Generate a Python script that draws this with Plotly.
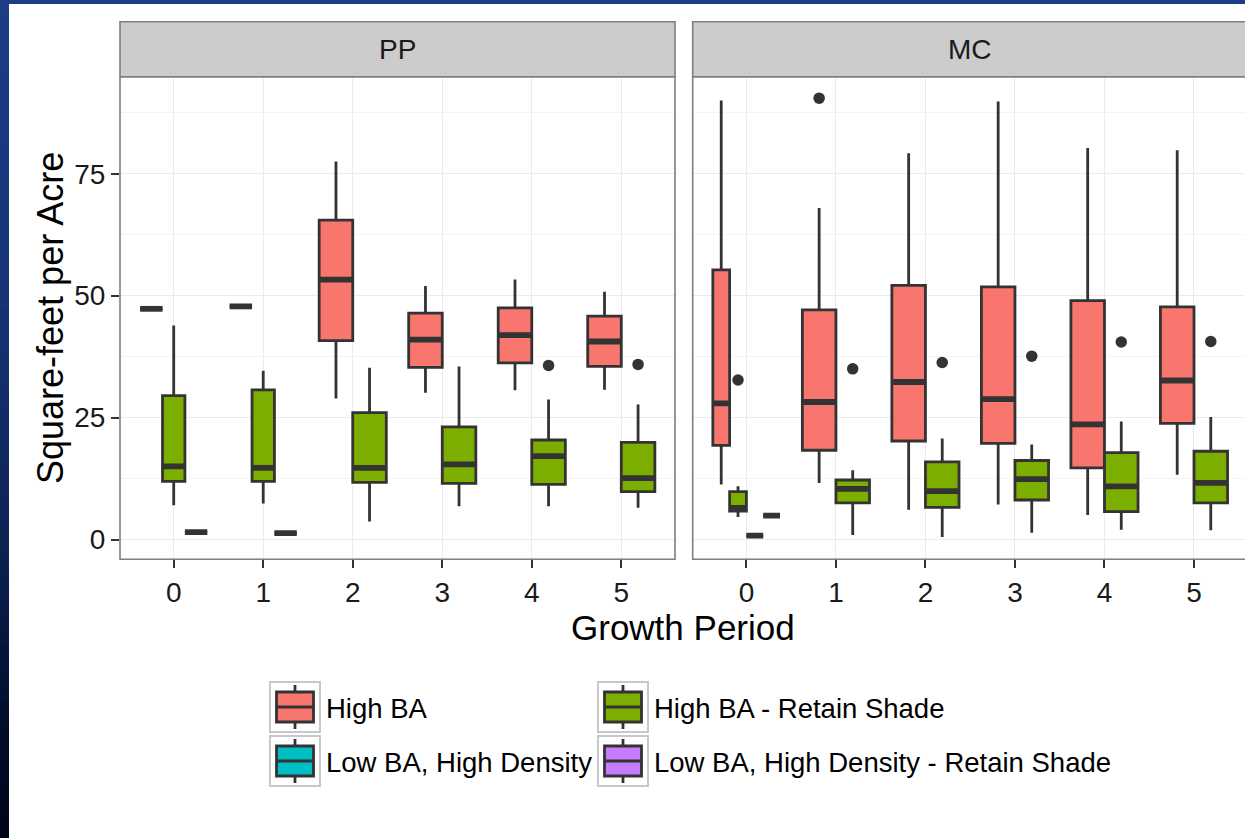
import plotly.graph_objects as go

W, H = 1245, 838
FONT = "Liberation Sans, Arial, Helvetica, sans-serif"

# ---------------- data ----------------
periods = [0, 1, 2, 3, 4, 5]
facets = ["PP", "MC"]
series_names = ["High BA", "High BA - Retain Shade",
                "Low BA, High Density", "Low BA, High Density - Retain Shade"]
series_colors = ["#F8766D", "#7CAE00", "#00BFC4", "#C77CFF"]

# PP: High BA
pp_hba_lower = [47.3, 47.8, 28.9, 30.1, 30.6, 30.7]
pp_hba_q1 = [47.3, 47.8, 40.8, 35.3, 36.2, 35.5]
pp_hba_median = [47.3, 47.8, 53.3, 41.0, 41.9, 40.6]
pp_hba_q3 = [47.3, 47.8, 65.5, 46.4, 47.5, 45.8]
pp_hba_upper = [47.3, 47.8, 77.5, 52.0, 53.3, 50.8]
pp_hba_outliers = [[], [], [], [], [], []]

# PP: High BA - Retain Shade
pp_hrs_lower = [7.0, 7.4, 3.7, 6.8, 6.8, 6.5]
pp_hrs_q1 = [11.9, 11.9, 11.7, 11.5, 11.3, 9.8]
pp_hrs_median = [15.0, 14.7, 14.7, 15.4, 17.1, 12.6]
pp_hrs_q3 = [29.5, 30.7, 26.0, 23.1, 20.4, 19.9]
pp_hrs_upper = [43.9, 34.6, 35.2, 35.5, 28.7, 27.7]
pp_hrs_outliers = [[], [], [], [], [35.7], [35.9]]

# PP: Low BA, High Density
pp_lhd_lower = [1.5, 1.3, None, None, None, None]
pp_lhd_q1 = [1.5, 1.3, None, None, None, None]
pp_lhd_median = [1.5, 1.3, None, None, None, None]
pp_lhd_q3 = [1.5, 1.3, None, None, None, None]
pp_lhd_upper = [1.5, 1.3, None, None, None, None]
pp_lhd_outliers = [[], [], [], [], [], []]

# PP: Low BA, High Density - Retain Shade (no observations)
pp_lrs_lower = [None] * 6
pp_lrs_q1 = [None] * 6
pp_lrs_median = [None] * 6
pp_lrs_q3 = [None] * 6
pp_lrs_upper = [None] * 6
pp_lrs_outliers = [[], [], [], [], [], []]

# MC: High BA
mc_hba_lower = [11.3, 11.6, 6.1, 7.2, 5.0, 13.3]
mc_hba_q1 = [19.3, 18.3, 20.2, 19.7, 14.7, 23.8]
mc_hba_median = [27.9, 28.2, 32.3, 28.8, 23.6, 32.6]
mc_hba_q3 = [55.3, 47.1, 52.1, 51.8, 49.0, 47.7]
mc_hba_upper = [90.0, 68.0, 79.2, 89.8, 80.3, 79.8]
mc_hba_outliers = [[], [90.5], [], [], [], []]

# MC: High BA - Retain Shade
mc_hrs_lower = [4.6, 0.9, 0.5, 1.4, 2.0, 1.9]
mc_hrs_q1 = [5.8, 7.5, 6.6, 8.1, 5.7, 7.5]
mc_hrs_median = [6.5, 10.4, 9.9, 12.4, 10.9, 11.6]
mc_hrs_q3 = [9.8, 12.2, 15.9, 16.2, 17.8, 18.1]
mc_hrs_upper = [10.9, 14.2, 20.7, 19.5, 24.2, 25.1]
mc_hrs_outliers = [[32.7], [35.0], [36.3], [37.6], [40.5], [40.6]]

# MC: Low BA, High Density
mc_lhd_lower = [0.8, None, None, None, None, None]
mc_lhd_q1 = [0.8, None, None, None, None, None]
mc_lhd_median = [0.8, None, None, None, None, None]
mc_lhd_q3 = [0.8, None, None, None, None, None]
mc_lhd_upper = [0.8, None, None, None, None, None]
mc_lhd_outliers = [[], [], [], [], [], []]

# MC: Low BA, High Density - Retain Shade
mc_lrs_lower = [4.9, None, None, None, None, None]
mc_lrs_q1 = [4.9, None, None, None, None, None]
mc_lrs_median = [4.9, None, None, None, None, None]
mc_lrs_q3 = [4.9, None, None, None, None, None]
mc_lrs_upper = [4.9, None, None, None, None, None]
mc_lrs_outliers = [[], [], [], [], [], []]

facet_series = {
    "PP": [
        (pp_hba_lower, pp_hba_q1, pp_hba_median, pp_hba_q3, pp_hba_upper, pp_hba_outliers),
        (pp_hrs_lower, pp_hrs_q1, pp_hrs_median, pp_hrs_q3, pp_hrs_upper, pp_hrs_outliers),
        (pp_lhd_lower, pp_lhd_q1, pp_lhd_median, pp_lhd_q3, pp_lhd_upper, pp_lhd_outliers),
        (pp_lrs_lower, pp_lrs_q1, pp_lrs_median, pp_lrs_q3, pp_lrs_upper, pp_lrs_outliers),
    ],
    "MC": [
        (mc_hba_lower, mc_hba_q1, mc_hba_median, mc_hba_q3, mc_hba_upper, mc_hba_outliers),
        (mc_hrs_lower, mc_hrs_q1, mc_hrs_median, mc_hrs_q3, mc_hrs_upper, mc_hrs_outliers),
        (mc_lhd_lower, mc_lhd_q1, mc_lhd_median, mc_lhd_q3, mc_lhd_upper, mc_lhd_outliers),
        (mc_lrs_lower, mc_lrs_q1, mc_lrs_median, mc_lrs_q3, mc_lrs_upper, mc_lrs_outliers),
    ],
}

# ---------------- layout geometry (pixels) ----------------
PANEL_TOP, PANEL_BOTTOM = 76.7, 559.3
STRIP_TOP = 21.7
PANELS = {"PP": (120.0, 675.0), "MC": (692.7, 1247.5)}
DODGE = 0.75
OUTLINE = "#333333"
BORDER = "#7F7F7F"
LINE_W = 2.8


def xp(px):
    return px / W


def yp(py):
    return 1 - py / H


fig = go.Figure()

for fi, facet in enumerate(facets):
    xa = "x" if fi == 0 else "x2"
    ya = "y" if fi == 0 else "y2"
    med_x, med_y = [], []
    out_x, out_y = [], []
    for pi, period in enumerate(periods):
        present = [si for si, s in enumerate(facet_series[facet]) if s[2][pi] is not None]
        n = len(present)
        w = DODGE / n
        for k, si in enumerate(present):
            lo, q1, md, q3, up, outs = facet_series[facet][si]
            pos = period + (k - (n - 1) / 2) * w
            fig.add_trace(go.Box(
                x=[pos], q1=[q1[pi]], median=[md[pi]], q3=[q3[pi]],
                lowerfence=[lo[pi]], upperfence=[up[pi]],
                width=w, fillcolor=series_colors[si],
                line=dict(color=OUTLINE, width=LINE_W), whiskerwidth=0,
                boxpoints=False, hoverinfo="skip", showlegend=False,
                name=series_names[si], xaxis=xa, yaxis=ya,
            ))
            med_x += [pos - w / 2, pos + w / 2, None]
            med_y += [md[pi], md[pi], None]
            for v in outs[pi]:
                out_x.append(pos)
                out_y.append(v)
    # thicker median bars
    fig.add_trace(go.Scatter(
        x=med_x, y=med_y, mode="lines", line=dict(color=OUTLINE, width=5.8),
        hoverinfo="skip", showlegend=False, xaxis=xa, yaxis=ya,
    ))
    fig.add_trace(go.Scatter(
        x=out_x, y=out_y, mode="markers",
        marker=dict(color=OUTLINE, size=11.5), hoverinfo="skip",
        showlegend=False, xaxis=xa, yaxis=ya,
    ))

# ---------------- axes ----------------
y_range = [-4.06, 94.9]
tick_style = dict(ticks="outside", ticklen=8, tickwidth=2.2, tickcolor=OUTLINE,
                  tickfont=dict(family=FONT, size=28, color="#1a1a1a"))
grid_style = dict(showgrid=True, gridcolor="#EBEBEB", gridwidth=1.2,
                  zeroline=False, showline=False)

pp_l, pp_r = PANELS["PP"]
mc_l, mc_r = PANELS["MC"]
unit = (pp_r - pp_l) / 6.2
mc_range_hi = -0.6 + (W - mc_l) / unit

fig.update_layout(
    width=W, height=H, autosize=False,
    margin=dict(l=0, r=0, t=0, b=0),
    paper_bgcolor="white", plot_bgcolor="white",
    boxmode="overlay",
    xaxis=dict(domain=[xp(pp_l), xp(pp_r)], range=[-0.6, 5.6], anchor="y",
               tickmode="array", tickvals=periods, ticktext=[str(p) for p in periods],
               **tick_style, **grid_style),
    xaxis2=dict(domain=[xp(mc_l), 1.0], range=[-0.6, mc_range_hi], anchor="y2",
                tickmode="array", tickvals=periods, ticktext=[str(p) for p in periods],
                **tick_style, **grid_style),
    yaxis=dict(domain=[yp(PANEL_BOTTOM), yp(PANEL_TOP)], range=y_range, anchor="x",
               tickmode="array", tickvals=[0, 25, 50, 75],
               minor=dict(tickmode="array", tickvals=[12.5, 37.5, 62.5, 87.5],
                          showgrid=True, gridcolor="#F4F4F4", gridwidth=1.2, ticks=""),
               **tick_style, **grid_style),
    yaxis2=dict(domain=[yp(PANEL_BOTTOM), yp(PANEL_TOP)], range=y_range, anchor="x2",
                matches="y", tickmode="array", tickvals=[0, 25, 50, 75],
                showticklabels=False, ticks="",
                minor=dict(tickmode="array", tickvals=[12.5, 37.5, 62.5, 87.5],
                           showgrid=True, gridcolor="#F4F4F4", gridwidth=1.2, ticks=""),
                **grid_style),
)

shapes = []
annotations = []

# panel borders and strips
for facet in facets:
    l, r = PANELS[facet]
    shapes.append(dict(type="rect", xref="paper", yref="paper",
                       x0=xp(l), x1=xp(r), y0=yp(PANEL_BOTTOM), y1=yp(PANEL_TOP),
                       line=dict(color=BORDER, width=1.6), fillcolor="rgba(0,0,0,0)",
                       layer="above"))
    shapes.append(dict(type="rect", xref="paper", yref="paper",
                       x0=xp(l), x1=xp(r), y0=yp(PANEL_TOP), y1=yp(STRIP_TOP),
                       line=dict(color=BORDER, width=1.6), fillcolor="#CCCCCC",
                       layer="above"))
    annotations.append(dict(text=facet, xref="paper", yref="paper",
                            x=xp((l + r) / 2), y=yp((STRIP_TOP + PANEL_TOP) / 2),
                            xanchor="center", yanchor="middle", showarrow=False,
                            font=dict(family=FONT, size=28, color="#1a1a1a")))

# axis titles
annotations.append(dict(text="Growth Period", xref="paper", yref="paper",
                        x=xp((pp_l + W) / 2), y=yp(627), xanchor="center", yanchor="middle",
                        showarrow=False, font=dict(family=FONT, size=35, color="black")))
annotations.append(dict(text="Square-feet per Acre", xref="paper", yref="paper",
                        x=xp(50), y=yp((PANEL_TOP + PANEL_BOTTOM) / 2), textangle=-90,
                        xanchor="center", yanchor="middle", showarrow=False,
                        font=dict(family=FONT, size=36, color="black")))

# legend (2 x 2 grid of boxplot keys)
legend_cells = [(270, 682), (598, 682), (270, 736), (598, 736)]
KEY = 50
for si, (cx, cy) in enumerate(legend_cells):
    shapes.append(dict(type="rect", xref="paper", yref="paper",
                       x0=xp(cx), x1=xp(cx + KEY), y0=yp(cy + KEY), y1=yp(cy),
                       line=dict(color="#C8C8C8", width=2), fillcolor="white"))
    mid = cx + KEY / 2
    shapes.append(dict(type="line", xref="paper", yref="paper",
                       x0=xp(mid), x1=xp(mid), y0=yp(cy + KEY - 3), y1=yp(cy + 3),
                       line=dict(color=OUTLINE, width=LINE_W)))
    shapes.append(dict(type="rect", xref="paper", yref="paper",
                       x0=xp(cx + 6.5), x1=xp(cx + KEY - 6.5),
                       y0=yp(cy + KEY - 10), y1=yp(cy + 10),
                       line=dict(color=OUTLINE, width=LINE_W), fillcolor=series_colors[si]))
    shapes.append(dict(type="line", xref="paper", yref="paper",
                       x0=xp(cx + 6.5), x1=xp(cx + KEY - 6.5),
                       y0=yp(cy + KEY / 2), y1=yp(cy + KEY / 2),
                       line=dict(color=OUTLINE, width=LINE_W)))
    annotations.append(dict(text=series_names[si], xref="paper", yref="paper",
                            x=xp(cx + KEY + 4), y=yp(cy + KEY / 2 + 1),
                            xanchor="left", yanchor="middle", showarrow=False,
                            font=dict(family=FONT, size=27.5, color="black")))

# blue frame along the left and top edges
top_rgb = (28, 62, 135)
stops = [(0, (28, 62, 135)), (300, (22, 52, 118)), (550, (12, 34, 82)),
         (700, (3, 16, 48)), (838, (0, 6, 24))]


def frame_colour(y):
    for (y0, c0), (y1, c1) in zip(stops[:-1], stops[1:]):
        if y0 <= y <= y1:
            t = (y - y0) / (y1 - y0)
            return "rgb(%d,%d,%d)" % tuple(round(a + (b - a) * t) for a, b in zip(c0, c1))
    return "rgb(0,6,24)"


band = 14
for y0 in range(0, H, band):
    shapes.append(dict(type="rect", xref="paper", yref="paper",
                       x0=0, x1=xp(9), y0=yp(min(y0 + band, H)), y1=yp(y0),
                       line=dict(width=0), fillcolor=frame_colour(y0 + band / 2),
                       layer="above"))
shapes.append(dict(type="rect", xref="paper", yref="paper",
                   x0=0, x1=1, y0=yp(4), y1=1, line=dict(width=0),
                   fillcolor="rgb(%d,%d,%d)" % top_rgb, layer="above"))

fig.update_layout(shapes=shapes, annotations=annotations)

fig.write_html("out.html")
